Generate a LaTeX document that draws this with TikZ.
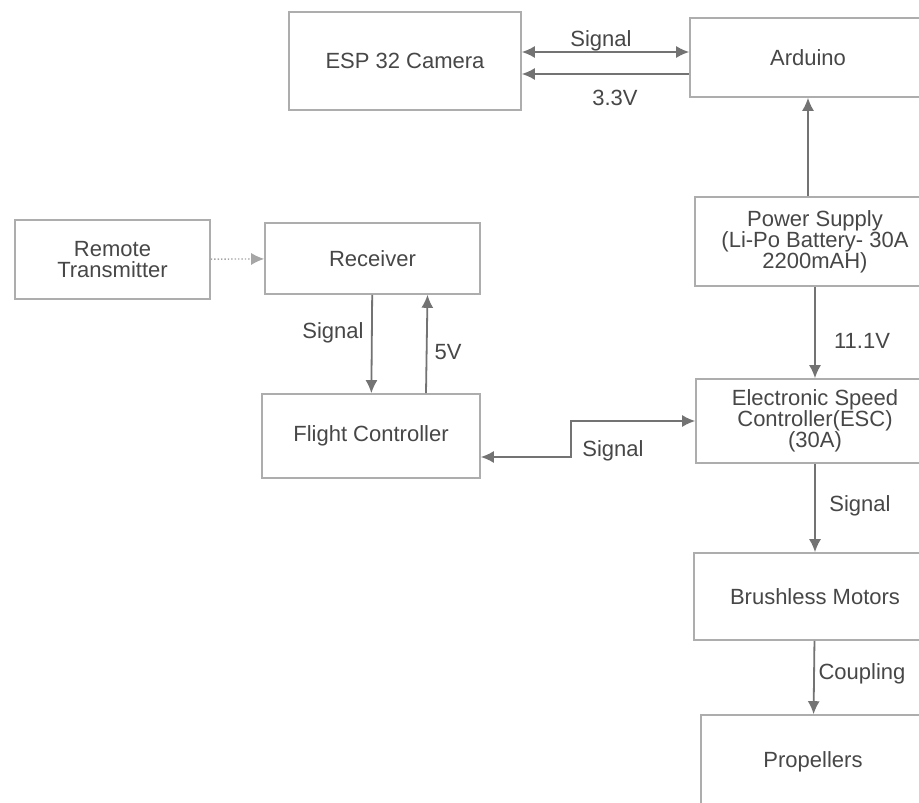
\documentclass[tikz,border=0pt]{standalone}
\usepackage{fontspec}
\setmainfont{Liberation Sans}
\usepgflibrary{arrows.meta}

\begin{document}
\begin{tikzpicture}[x=1pt,y=-1pt,
    blk/.style={draw=black!32,line width=1.6pt,text=black!72,align=center,
        font=\fontsize{22}{21}\selectfont},
    lbl/.style={text=black!72,font=\fontsize{22}{21}\selectfont},
    con/.style={draw=black!55,line width=1.8pt},
    tip/.style={-{Latex[length=13pt,width=12pt]}},
    tips/.style={{Latex[length=13pt,width=12pt]}-{Latex[length=13pt,width=12pt]}}]
        %画布
        \useasboundingbox (0,0) rectangle (919,803);
        \clip (0,0) rectangle (919,803);
        \fill [white] (0,0) rectangle (919,803);
        %方框
        \node [blk,minimum width=232,minimum height=98] (esp) at (405,61) {ESP 32 Camera};
        \node [blk,minimum width=236,minimum height=79] (ard) at (808,57.5) {Arduino};
        \node [blk,minimum width=240,minimum height=89] (pwr) at (815,241.5) {Power Supply\\(Li-Po Battery- 30A\\2200mAH)};
        \node [blk,minimum width=195,minimum height=79] (rt) at (112.5,259.5) {Remote\\Transmitter};
        \node [blk,minimum width=215,minimum height=71] (rx) at (372.5,258.5) {Receiver};
        \node [blk,minimum width=218,minimum height=84] (fc) at (371,436) {Flight Controller};
        \node [blk,minimum width=238,minimum height=84] (esc) at (815,421) {Electronic Speed\\Controller(ESC)\\(30A)};
        \node [blk,minimum width=242,minimum height=87] (bm) at (815,596.5) {Brushless Motors};
        \node [blk,minimum width=224,minimum height=94] (prop) at (813,762) {Propellers};
        %连线
        \draw [con][tips] ([yshift=9pt]esp.east) -- ([yshift=9pt]esp.east -| ard.west);
        \draw [con][tip] ([yshift=-13pt]esp.east -| ard.west) -- ([yshift=-13pt]esp.east);
        \draw [con][tip] (ard.south |- pwr.north) -- (ard.south);
        \draw [con][tip] (pwr) -- (esc);
        \draw [draw=black!35,line width=1.4pt,dotted][tip] (rt) -- (rx);
        \draw [con][tip] (rx) -- (fc);
        \draw [con][tip] ([xshift=55pt]fc.north) -- ([xshift=55pt]rx.south);
        \draw [con][tips] ([yshift=-21pt]fc.east) -| ([xshift=-124pt]esc.west) -- (esc.west);
        \draw [con][tip] (esc) -- (bm);
        \draw [con][tip] (bm) -- (prop);
        %标注
        \node [lbl] (l1) at (601,41) {Signal};
        \node [lbl] (l2) at (615,98) {3.3V};
        \node [lbl] (l3) at (862,341) {11.1V};
        \node [lbl] (l4) at (333,333) {Signal};
        \node [lbl] (l5) at (448,352) {5V};
        \node [lbl] (l6) at (613,451) {Signal};
        \node [lbl] (l7) at (860,506) {Signal};
        \node [lbl] (l8) at (862,674) {Coupling};
    \end{tikzpicture}
\end{document}
